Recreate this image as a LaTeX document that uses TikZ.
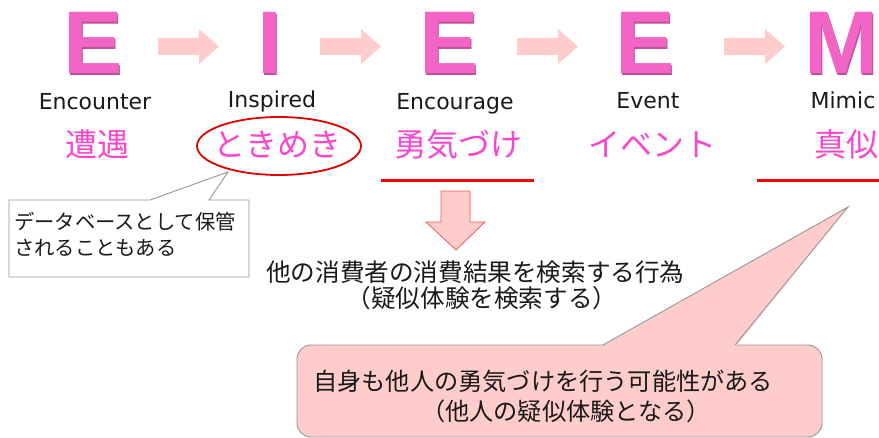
\documentclass[tikz,border=0pt]{standalone}
\usepackage{fontspec}
\setmainfont{Liberation Sans}
\newfontfamily\jpfont{Noto Sans CJK JP}
\newfontfamily\enfont{DejaVu Sans}
\definecolor{pinkL}{RGB}{242,100,198}
\definecolor{pinkShadow}{RGB}{190,80,150}
\definecolor{pinkJ}{RGB}{250,70,205}
\definecolor{arrowFill}{RGB}{255,204,204}
\definecolor{arrowEdge}{RGB}{240,90,90}
\definecolor{txt}{RGB}{25,25,25}
\definecolor{calloutEdge}{RGB}{150,150,150}
\definecolor{redLine}{RGB}{250,0,0}
\begin{document}
\begin{tikzpicture}[x=1pt,y=-1pt,
  bigletter/.style={anchor=base, inner sep=0pt, text depth=0pt, text=pinkL, font=\fontsize{89}{89}\selectfont\bfseries},
  bigshadow/.style={anchor=base, inner sep=0pt, text depth=0pt, text=pinkShadow, font=\fontsize{89}{89}\selectfont\bfseries},
  enlabel/.style={anchor=base, inner sep=0pt, text=txt, font=\enfont\fontsize{22}{22}\selectfont},
  jplabel/.style={anchor=base, inner sep=0pt, text=pinkJ, font=\jpfont\fontsize{32}{32}\selectfont},
  bodytext/.style={inner sep=0pt, text=txt, font=\jpfont\fontsize{24.6}{24.6}\selectfont},
  notetext/.style={inner sep=0pt, text=txt, font=\jpfont\fontsize{20.3}{20.3}\selectfont},
  blockarrow/.style={fill=arrowFill, draw=none},
  underline/.style={draw=redLine, line width=3pt},
  callout/.style={draw=calloutEdge, line width=0.9pt, line join=miter}
]
\useasboundingbox (0,0) rectangle (879,438);
\fill[white] (0,0) rectangle (879,438);

% big letters (shadow + letter)
\foreach \x/\l in {93/E, 270/I, 449/E, 645/E, 841.5/M}{
  \node[bigshadow] at (\x+1.2,75.2) {\l};
}
\node[bigletter] (L1) at (93,74) {E};
\node[bigletter] (L2) at (270,74) {I};
\node[bigletter] (L3) at (449,74) {E};
\node[bigletter] (L4) at (645,74) {E};
\node[bigletter] (L5) at (841.5,74) {M};

% block arrows
\foreach \a in {158,320,517,724}{
  \fill[blockarrow] (\a,38) -- (\a+41,38) -- (\a+41,29) -- (\a+61,46.5) -- (\a+41,64) -- (\a+41,55) -- (\a,55) -- cycle;
}

% English labels
\node[enlabel] (E1) at (95,110) {Encounter};
\node[enlabel] (E2) at (272,107.5) {Inspired};
\node[enlabel] (E3) at (455,110) {Encourage};
\node[enlabel] (E4) at (648,108.5) {Event};
\node[enlabel] (E5) at (843,109) {Mimic};

% Japanese labels
\node[jplabel] (J1) at (97,157) {遭遇};
\node[jplabel] (J2) at (277,157) {ときめき};
\node[jplabel] (J3) at (458,157) {勇気づけ};
\node[jplabel] (J4) at (652,157) {イベント};
\node[jplabel] (J5) at (846,157) {真似};

% red ellipse around ときめき
\draw[redLine!90!black, line width=1.8pt] (279,146) ellipse [x radius=82, y radius=29];

% red underlines
\draw[underline] (381,181) -- (534,181);
\draw[underline] (757,181) -- (879,181);

% down arrow
\draw[fill=arrowFill, draw=arrowEdge, line width=0.8pt, line join=miter]
  (441,191) -- (470,191) -- (470,222) -- (485,222) -- (456,250) -- (426,222) -- (441,222) -- cycle;

% middle text
\node[bodytext, anchor=base west] (M1) at (266,281.4) {他の消費者の消費結果を検索する行為};
\node[bodytext, anchor=base] (M2) at (482,307.4) {（疑似体験を検索する）};

% left callout
\coordinate (tipA) at (228,172);
\draw[callout, fill=white] (9,200) -- (150,200) -- (tipA) -- (209,200) -- (249,200) -- (249,277) -- (9,277) -- cycle;
\node[notetext, anchor=base west] (N1) at (14,229.7) {データベースとして保管};
\node[notetext, anchor=base west] (N2) at (14,255.7) {されることもある};

% pink callout
\coordinate (tipB) at (848,207);
\draw[callout, fill=arrowFill, rounded corners=14pt] (297,345) rectangle (822,437);
\fill[arrowFill] (602,346) -- (tipB) -- (736,346) -- cycle;
\draw[callout] (603,345) -- (tipB) -- (735,345);
\fill[arrowFill] (604,346.6) rectangle (734,349);
\node[bodytext, anchor=base west, font=\jpfont\fontsize{24.2}{24.2}\selectfont] (P1) at (313,390.2) {自身も他人の勇気づけを行う可能性がある};
\node[bodytext, anchor=base, font=\jpfont\fontsize{24.2}{24.2}\selectfont] (P2) at (566,420.2) {（他人の疑似体験となる）};
\end{tikzpicture}
\end{document}
